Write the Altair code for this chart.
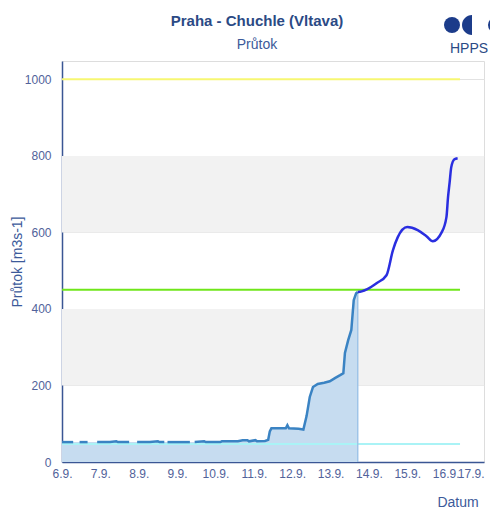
import altair as alt
import pandas as pd

# ---------------- data ----------------
START = "2024-09-06T00:00:00"
# observed flow (hours after 6.9. 00:00), None = gap in measurements
obs_hours = [0, 4, 7, 9, 11, 16, 19, 22, 30, 34, 35, 42, 44, 47, 55, 60, 61, 64, 65,
             66, 75, 80, 81, 83, 89, 90, 99, 100, 110, 113, 116, 117, 121, 122, 127,
             129, 130, 131, 135, 140, 141, 142, 148, 151, 153, 155, 157, 160, 164,
             167.5, 171, 174, 176, 177, 179, 181, 182.5, 184, 185]
obs_values = [52, 52, 52, None, 52, 52, None, 52, 52, 54, 52, 52, None, 52, 52, 54, 52, 52, None,
              52, 52, 52, None, 52, 54, 52, 52, 54, 54, 57, 57, 54, 57, 54, 55,
              58, 80, 88, 88, 88, 96, 88, 87, 85, 120, 170, 196, 204, 207,
              211, 220, 227, 232, 285, 318, 345, 423, 441, 444]
# forecast
fc_hours = [185, 187.5, 191, 197, 203, 207, 210, 216, 222.5, 228, 232, 237.5, 240.5,
            241.5, 242.5, 243.5, 245.5, 247.5]
fc_values = [444, 446, 452, 468, 488, 553, 587, 614, 606, 590, 577, 600, 640,
             692, 731, 770, 791, 794]
# flood thresholds
thr_names = ["SPA3", "SPA2", "SPA1"]
thr_values = [1000, 450, 47]
thr_colors = ["#f7f772", "#6fe61a", "#aaf3f6"]
thr_hours = [0, 249]
band_lo = [200, 600]
band_hi = [400, 800]
y_ticks = [0, 200, 400, 600, 800, 1000]
x_days = list(range(6, 18))

base = pd.Timestamp(START)


def to_iso(hours):
    return [(base + pd.Timedelta(hours=h)).strftime("%Y-%m-%dT%H:%M:%SZ") for h in hours]


seg, s = [], 0
for v in obs_values:
    if v is None:
        s += 1
    seg.append(s)
obs_df = pd.DataFrame({"time": to_iso(obs_hours), "value": obs_values, "seg": seg})
fc_df = pd.DataFrame({"time": to_iso(fc_hours), "value": fc_values})
thr_rows = []
for n, v in zip(thr_names, thr_values):
    for t in to_iso(thr_hours):
        thr_rows.append({"time": t, "value": v, "name": n})
thr_df = pd.DataFrame(thr_rows)
band_df = pd.DataFrame({"lo": band_lo, "hi": band_hi})
end_df = pd.DataFrame({"time": [obs_df["time"].iloc[-1]], "value": [obs_values[-1]], "zero": [0]})

W, H = 422, 401
NAVY = "#2b4a85"
LAB = "#51629a"

xscale = alt.Scale(type="utc", domain=[alt.DateTime(year=2024, month=9, date=6, utc=True),
                                       alt.DateTime(year=2024, month=9, date=17, utc=True)])
yscale = alt.Scale(domain=[0, 1048], nice=False)

xaxis = alt.Axis(values=[alt.DateTime(year=2024, month=9, date=d, utc=True) for d in x_days],
                 labelExpr="utcFormat(datum.value, '%-d.%-m.')", title=None, grid=False,
                 tickSize=0, labelPadding=6, labelFontSize=12, labelColor=LAB,
                 labelFont="Liberation Sans", domainColor="#3a5694", domainWidth=1.5,
                 labelFlush=False, labelOverlap=False,
                 labelAlign={"condition": {"test": "datum.index >= 0.99", "value": "right"},
                             "value": "center"})
yaxis = alt.Axis(values=y_ticks, format="d", title=None, grid=True, gridColor="#e2e2e2",
                 tickSize=0, labelPadding=11, labelFontSize=12, labelColor=LAB,
                 labelFont="Liberation Sans", domainColor="#3a5694", domainWidth=1.5)

bands = alt.Chart(band_df).mark_rect(color="#f2f2f2").encode(
    y=alt.Y("lo:Q", scale=yscale, axis=yaxis), y2="hi:Q",
    x=alt.value(0), x2=alt.value(W))

X = alt.X("time:T", scale=xscale, axis=xaxis)
Y = alt.Y("value:Q", scale=yscale, axis=yaxis)

area = alt.Chart(obs_df).transform_filter("isValid(datum.value)").mark_area(
    color="#c6dcf0", opacity=1).encode(x=X, y=Y)

endrule = alt.Chart(end_df).mark_rule(color="#9ec4e8", strokeWidth=1.5).encode(
    x=X, y=alt.Y("zero:Q", scale=yscale, axis=yaxis), y2="value:Q")

thr = alt.Chart(thr_df).mark_line(strokeWidth=2).encode(
    x=X, y=Y,
    color=alt.Color("name:N", scale=alt.Scale(domain=thr_names, range=thr_colors), legend=None))

obs_line = alt.Chart(obs_df).transform_filter("isValid(datum.value)").mark_line(
    color="#3a83c3", strokeWidth=2.5).encode(x=X, y=Y, detail="seg:N")

fc_line = alt.Chart(fc_df).mark_line(color="#2a2ee0", strokeWidth=2.5,
                                     interpolate="monotone").encode(x=X, y=Y)


def label(txt, x, y, size=14, weight="normal", color=NAVY, angle=0, align="center"):
    return alt.Chart(pd.DataFrame({"t": [txt]})).mark_text(
        font="Liberation Sans", fontSize=size, fontWeight=weight, color=color,
        angle=angle, align=align, baseline="alphabetic").encode(
        text="t:N", x=alt.value(x), y=alt.value(y))


title = label("Praha - Chuchle (Vltava)", 195, -35, size=15, weight="bold")
subtitle = label("Průtok", 195, -12, size=14, color="#3c5a9a")
ytitle = label("Průtok [m3s-1]", -40, 201, size=14, color="#3c5a9a", angle=270)
xtitle = label("Datum", 396, 446, size=14, color="#3c5a9a")
hpps = label("HPPS", 407, -8, size=14, color=NAVY)

logo_df = pd.DataFrame({"k": [0]})
logo1 = alt.Chart(logo_df).mark_point(shape="circle", filled=True, size=256, color="#1c3c8a",
                                       opacity=1).encode(x=alt.value(390), y=alt.value(-36))
logo2 = alt.Chart(logo_df).mark_point(shape="M0,-1A1,1,0,0,0,0,1Z", filled=True, size=400,
                                       color="#1c3c8a", opacity=1).encode(
    x=alt.value(410), y=alt.value(-36))
logo3 = alt.Chart(logo_df).mark_point(shape="circle", filled=True, size=256, color="#1c3c8a",
                                       opacity=1).encode(x=alt.value(434), y=alt.value(-36))

chart = alt.layer(bands, area, thr, endrule, obs_line, fc_line,
                  title, subtitle, ytitle, xtitle, hpps, logo1, logo2, logo3).properties(
    width=W, height=H,
    autosize=alt.AutoSizeParams(type="none"),
    padding={"left": 54, "top": 53, "right": 6, "bottom": 47},
).configure_view(stroke="#dddddd", strokeWidth=1)

chart.save("out.html", embed_options={"renderer": "svg", "actions": False})
